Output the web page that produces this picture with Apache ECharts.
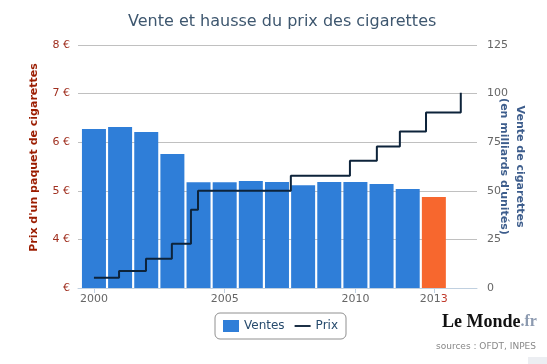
<!DOCTYPE html>
<html><head><meta charset="utf-8">
<script src="https://cdn.jsdelivr.net/npm/echarts@6/dist/echarts.min.js"></script>
<style>html,body{margin:0;padding:0;background:#fff}#c{width:547px;height:364px}</style>
</head><body><div id="c"></div>
<script>
// Sales (billions of units) per year
const years = ['2000','2001','2002','2003','2004','2005','2006','2007','2008','2009','2010','2011','2012','2013'];
const sales = [81.8,82.8,80.2,68.9,54.4,54.4,55.0,54.5,52.8,54.5,54.5,53.5,50.9,46.8];
// Price of a pack (euros) — change dates (fractional years) and prices
const priceDates = [2000.0,2000.96,2001.99,2002.98,2003.71,2003.98,2007.53,2009.79,2010.82,2011.70,2012.70,2014.03];
const prices =     [3.21,  3.35,   3.6,    3.91,   4.61,   5.0,    5.31,   5.62,   5.91,   6.22,   6.61,   7.02];
const xLabels = [2000,2005,2010,2013];

const FONT = 'DejaVu Sans';
// Main plot: x 78..477 (399px) showing years 1999.39 .. 2014.65
const X0 = 78, PW = 399, YMIN = 1999.39, YMAX = 2014.65;
const pxPerYear = PW / (YMAX - YMIN);
// Bars live in an overlaid category grid whose bands are exactly one year wide
const barLeft = X0 + (1999.5 - YMIN) * pxPerYear;
const barWidthPx = years.length * pxPerYear;

const chart = echarts.init(document.getElementById('c'), null, {renderer:'canvas'});
chart.setOption({
  animation:false,
  backgroundColor:'#fff',
  title:{text:'Vente et hausse du prix des cigarettes', left:123, top:9,
    textStyle:{color:'#3e576f', fontFamily:FONT, fontSize:16, fontWeight:'normal'}},
  grid:[
    {left:X0, width:PW, top:45, bottom:76},
    {left:barLeft, width:barWidthPx, top:45, bottom:76}
  ],
  legend:{left:215, top:313, padding:[7,8,7,8], itemGap:10, itemWidth:16, itemHeight:12,
    borderColor:'#909090', borderWidth:1, borderRadius:5, symbolKeepAspect:true,
    textStyle:{color:'#274b6d', fontFamily:FONT, fontSize:12},
    data:[{name:'Ventes', icon:'rect'},{name:'Prix', icon:'path://M0,0 H17 V2 H0 Z'}]},
  xAxis:[
    {type:'value', gridIndex:0, min:YMIN, max:YMAX,
     axisLine:{show:true, lineStyle:{color:'#c0d0e0'}},
     axisTick:{show:true, customValues:xLabels, length:5, lineStyle:{color:'#c0d0e0'}},
     splitLine:{show:false},
     axisLabel:{customValues:xLabels, color:'#666', fontFamily:FONT, fontSize:11, margin:6,
       formatter:function(v){ return v===2013 ? '201{r|3}' : String(v); },
       rich:{r:{color:'#c0392b', fontFamily:FONT, fontSize:11}}}},
    {type:'category', gridIndex:1, data:years, boundaryGap:true, show:false}
  ],
  yAxis:[
    {type:'value', gridIndex:0, min:3, max:8, interval:1, position:'left',
     name:"Prix d'un paquet de cigarettes", nameLocation:'middle', nameGap:38, nameMoveOverlap:false,
     nameTextStyle:{color:'#9b1c00', fontFamily:FONT, fontSize:11, fontWeight:'bold', padding:[0,0,0,18]},
     axisLine:{show:false}, axisTick:{show:false},
     splitLine:{lineStyle:{color:'#c0c0c0'}},
     axisLabel:{color:'#a03020', fontFamily:FONT, fontSize:11, margin:8,
       formatter:function(v){ return v===3 ? '€' : v+' €'; }}},
    {type:'value', gridIndex:0, min:0, max:125, interval:25, position:'right',
     name:"Vente de cigarettes\n(en milliards d'unités)", nameLocation:'middle', nameGap:19, nameRotate:-90,
     nameMoveOverlap:false,
     nameTextStyle:{color:'#3d5d8c', fontFamily:FONT, fontSize:11, fontWeight:'bold', lineHeight:16},
     axisLine:{show:false}, axisTick:{show:false}, splitLine:{show:false},
     axisLabel:{color:'#666', fontFamily:FONT, fontSize:11, margin:10}},
    {type:'value', gridIndex:1, min:0, max:125, interval:25, show:false, splitLine:{show:false}}
  ],
  series:[
    {name:'Ventes', type:'bar', xAxisIndex:1, yAxisIndex:2, barWidth:24,
     itemStyle:{color:'#2f7ed8'},
     data: sales.map(function(v,i){
       var d = {value:v};
       if (years[i]==='2013') d.itemStyle = {color:'#f7672e'};
       return d; })},
    {name:'Prix', type:'line', xAxisIndex:0, yAxisIndex:0, step:'end', symbol:'none',
     lineStyle:{color:'#0d233a', width:2}, itemStyle:{color:'#0d233a'}, z:5,
     data: priceDates.map(function(d,i){ return [d, prices[i]]; })}
  ],
  graphic:[
    {type:'text', left:442, top:313, style:{text:'{a|Le Monde}{b|.fr}',
      rich:{a:{fontFamily:'Liberation Serif', fontWeight:'bold', fontSize:18, fill:'#111'},
            b:{fontFamily:'Liberation Serif', fontWeight:'bold', fontSize:16, fill:'#8c9ab0'}}}},
    {type:'text', left:436, top:342, style:{text:'sources : OFDT, INPES', fontFamily:FONT, fontSize:9, fill:'#888'}},
    {type:'rect', shape:{x:528, y:357, width:19, height:7}, style:{fill:'#eceef2'}}
  ]
});
</script></body></html>
